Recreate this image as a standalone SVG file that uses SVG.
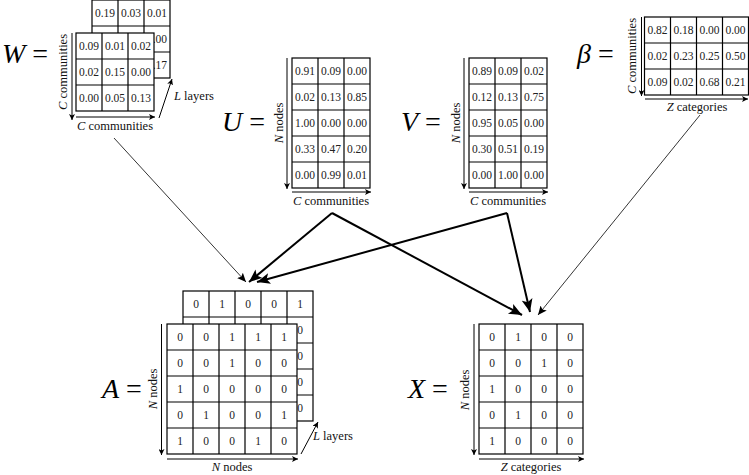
<svg xmlns="http://www.w3.org/2000/svg" width="749" height="475" viewBox="0 0 749 475">
<style>
.bg{fill:#fff}
.g{fill:#fff;stroke:#000;stroke-width:1.2}
.ln{stroke:#000;stroke-width:1.2;fill:none}
text{font-family:'Liberation Serif','Times New Roman',serif}
.v{font-size:11.5px;fill:#222;text-anchor:middle;dominant-baseline:central}
.lab{font-size:12.5px;fill:#111;text-anchor:middle}
.big{font-size:28px;fill:#000}
.it{font-style:italic}
.ax{stroke:#000;stroke-width:1;fill:none;marker-end:url(#ms)}
.thin{stroke:#000;stroke-width:0.8;fill:none;marker-end:url(#mt)}
.thick{stroke:#000;stroke-width:2;fill:none;marker-end:url(#mk)}
</style>
<defs>
<marker id="ms" markerUnits="userSpaceOnUse" markerWidth="7" markerHeight="6" refX="6" refY="3" orient="auto"><path d="M0,0 L6,3 L0,6 L1.5,3 z" fill="#000"/></marker>
<marker id="mt" markerUnits="userSpaceOnUse" markerWidth="10" markerHeight="8" refX="9" refY="4" orient="auto"><path d="M0,0 L9,4 L0,8 L2,4 z" fill="#000"/></marker>
<marker id="mk" markerUnits="userSpaceOnUse" markerWidth="14" markerHeight="11" refX="13" refY="5.5" orient="auto"><path d="M0,0 L13,5.5 L0,11 L3,5.5 z" fill="#000"/></marker>
</defs>
<rect class="bg" x="0" y="0" width="749" height="475"/>

<g id="W">
  <text class="big" x="2" y="63"><tspan class="it">W</tspan> =</text>
  <rect class="g" x="92" y="0" width="78" height="78"/>
  <path class="ln" d="M118,0V78M144,0V78M92,26H170M92,52H170"/>
  <text class="v" x="105" y="13">0.19</text><text class="v" x="131" y="13">0.03</text><text class="v" x="157" y="13">0.01</text>
  <text class="v" x="157" y="39">0.00</text>
  <text class="v" x="157" y="65">0.17</text>
  <rect class="g" x="76" y="33" width="78" height="78"/>
  <path class="ln" d="M102,33V111M128,33V111M76,59H154M76,85H154"/>
  <text class="v" x="89" y="46">0.09</text><text class="v" x="115" y="46">0.01</text><text class="v" x="141" y="46">0.02</text>
  <text class="v" x="89" y="72">0.02</text><text class="v" x="115" y="72">0.15</text><text class="v" x="141" y="72">0.00</text>
  <text class="v" x="89" y="98">0.00</text><text class="v" x="115" y="98">0.05</text><text class="v" x="141" y="98">0.13</text>
  <path class="ax" d="M72,33V120"/>
  <path class="ax" d="M76,117H155"/>
  <path class="ax" d="M159,118L172,79"/>
  <text class="lab" transform="translate(67,72) rotate(-90)"><tspan class="it">C</tspan> communities</text>
  <text class="lab" x="115" y="130"><tspan class="it">C</tspan> communities</text>
  <text class="lab" x="174" y="100" style="text-anchor:start"><tspan class="it">L</tspan> layers</text>
</g>

<g id="U">
  <text class="big" x="222" y="131"><tspan class="it">U</tspan> =</text>
  <rect class="g" x="292" y="58" width="78" height="130"/>
  <path class="ln" d="M318,58V188M344,58V188M292,84H370M292,110H370M292,136H370M292,162H370"/>
  <text class="v" x="305" y="71">0.91</text><text class="v" x="331" y="71">0.09</text><text class="v" x="357" y="71">0.00</text>
  <text class="v" x="305" y="97">0.02</text><text class="v" x="331" y="97">0.13</text><text class="v" x="357" y="97">0.85</text>
  <text class="v" x="305" y="123">1.00</text><text class="v" x="331" y="123">0.00</text><text class="v" x="357" y="123">0.00</text>
  <text class="v" x="305" y="149">0.33</text><text class="v" x="331" y="149">0.47</text><text class="v" x="357" y="149">0.20</text>
  <text class="v" x="305" y="175">0.00</text><text class="v" x="331" y="175">0.99</text><text class="v" x="357" y="175">0.01</text>
  <path class="ax" d="M287,58V189"/>
  <path class="ax" d="M292,192H371"/>
  <text class="lab" transform="translate(283,123) rotate(-90)"><tspan class="it">N</tspan> nodes</text>
  <text class="lab" x="331" y="205"><tspan class="it">C</tspan> communities</text>
</g>

<g id="V">
  <text class="big" x="401" y="131"><tspan class="it">V</tspan> =</text>
  <rect class="g" x="469" y="58" width="78" height="130"/>
  <path class="ln" d="M495,58V188M521,58V188M469,84H547M469,110H547M469,136H547M469,162H547"/>
  <text class="v" x="482" y="71">0.89</text><text class="v" x="508" y="71">0.09</text><text class="v" x="534" y="71">0.02</text>
  <text class="v" x="482" y="97">0.12</text><text class="v" x="508" y="97">0.13</text><text class="v" x="534" y="97">0.75</text>
  <text class="v" x="482" y="123">0.95</text><text class="v" x="508" y="123">0.05</text><text class="v" x="534" y="123">0.00</text>
  <text class="v" x="482" y="149">0.30</text><text class="v" x="508" y="149">0.51</text><text class="v" x="534" y="149">0.19</text>
  <text class="v" x="482" y="175">0.00</text><text class="v" x="508" y="175">1.00</text><text class="v" x="534" y="175">0.00</text>
  <path class="ax" d="M464,58V189"/>
  <path class="ax" d="M469,192H548"/>
  <text class="lab" transform="translate(460,123) rotate(-90)"><tspan class="it">N</tspan> nodes</text>
  <text class="lab" x="508" y="205"><tspan class="it">C</tspan> communities</text>
</g>

<g id="beta">
  <text class="big" x="577" y="63"><tspan class="it">β</tspan> =</text>
  <rect class="g" x="644.5" y="17" width="104" height="78"/>
  <path class="ln" d="M670.5,17V95M696.5,17V95M722.5,17V95M644.5,43H748.5M644.5,69H748.5"/>
  <text class="v" x="657.5" y="30">0.82</text><text class="v" x="683.5" y="30">0.18</text><text class="v" x="709.5" y="30">0.00</text><text class="v" x="735.5" y="30">0.00</text>
  <text class="v" x="657.5" y="56">0.02</text><text class="v" x="683.5" y="56">0.23</text><text class="v" x="709.5" y="56">0.25</text><text class="v" x="735.5" y="56">0.50</text>
  <text class="v" x="657.5" y="82">0.09</text><text class="v" x="683.5" y="82">0.02</text><text class="v" x="709.5" y="82">0.68</text><text class="v" x="735.5" y="82">0.21</text>
  <path class="ax" d="M641.5,17V96"/>
  <path class="ax" d="M645,99H748"/>
  <text class="lab" transform="translate(636,56) rotate(-90)"><tspan class="it">C</tspan> communities</text>
  <text class="lab" x="697" y="111"><tspan class="it">Z</tspan> categories</text>
</g>

<g id="A">
  <text class="big" x="102" y="398"><tspan class="it">A</tspan> =</text>
  <rect class="g" x="183" y="291" width="130" height="130"/>
  <path class="ln" d="M209,291V421M235,291V421M261,291V421M287,291V421M183,317H313M183,343H313M183,369H313M183,395H313"/>
  <text class="v" x="196" y="304">0</text><text class="v" x="222" y="304">1</text><text class="v" x="248" y="304">0</text><text class="v" x="274" y="304">0</text><text class="v" x="300" y="304">1</text>
  <text class="v" x="300" y="330">0</text><text class="v" x="300" y="356">0</text><text class="v" x="300" y="382">0</text><text class="v" x="300" y="408">0</text>
  <rect class="g" x="167" y="324" width="130" height="130"/>
  <path class="ln" d="M193,324V454M219,324V454M245,324V454M271,324V454M167,350H297M167,376H297M167,402H297M167,428H297"/>
  <text class="v" x="180" y="337">0</text><text class="v" x="206" y="337">0</text><text class="v" x="232" y="337">1</text><text class="v" x="258" y="337">1</text><text class="v" x="284" y="337">1</text>
  <text class="v" x="180" y="363">0</text><text class="v" x="206" y="363">0</text><text class="v" x="232" y="363">1</text><text class="v" x="258" y="363">0</text><text class="v" x="284" y="363">0</text>
  <text class="v" x="180" y="389">1</text><text class="v" x="206" y="389">0</text><text class="v" x="232" y="389">0</text><text class="v" x="258" y="389">0</text><text class="v" x="284" y="389">0</text>
  <text class="v" x="180" y="415">0</text><text class="v" x="206" y="415">1</text><text class="v" x="232" y="415">0</text><text class="v" x="258" y="415">0</text><text class="v" x="284" y="415">1</text>
  <text class="v" x="180" y="441">1</text><text class="v" x="206" y="441">0</text><text class="v" x="232" y="441">0</text><text class="v" x="258" y="441">1</text><text class="v" x="284" y="441">0</text>
  <path class="ax" d="M161.5,324V455"/>
  <path class="ax" d="M167,459H298"/>
  <path class="ax" d="M301,454L318,422"/>
  <text class="lab" transform="translate(157,389) rotate(-90)"><tspan class="it">N</tspan> nodes</text>
  <text class="lab" x="232" y="471"><tspan class="it">N</tspan> nodes</text>
  <text class="lab" x="313" y="440" style="text-anchor:start"><tspan class="it">L</tspan> layers</text>
</g>

<g id="X">
  <text class="big" x="408" y="398"><tspan class="it">X</tspan> =</text>
  <rect class="g" x="479" y="324" width="104" height="130"/>
  <path class="ln" d="M505,324V454M531,324V454M557,324V454M479,350H583M479,376H583M479,402H583M479,428H583"/>
  <text class="v" x="492" y="337">0</text><text class="v" x="518" y="337">1</text><text class="v" x="544" y="337">0</text><text class="v" x="570" y="337">0</text>
  <text class="v" x="492" y="363">0</text><text class="v" x="518" y="363">0</text><text class="v" x="544" y="363">1</text><text class="v" x="570" y="363">0</text>
  <text class="v" x="492" y="389">1</text><text class="v" x="518" y="389">0</text><text class="v" x="544" y="389">0</text><text class="v" x="570" y="389">0</text>
  <text class="v" x="492" y="415">0</text><text class="v" x="518" y="415">1</text><text class="v" x="544" y="415">0</text><text class="v" x="570" y="415">0</text>
  <text class="v" x="492" y="441">1</text><text class="v" x="518" y="441">0</text><text class="v" x="544" y="441">0</text><text class="v" x="570" y="441">0</text>
  <path class="ax" d="M474,324V455"/>
  <path class="ax" d="M479,459H584"/>
  <text class="lab" transform="translate(469,390) rotate(-90)"><tspan class="it">N</tspan> nodes</text>
  <text class="lab" x="531" y="471"><tspan class="it">Z</tspan> categories</text>
</g>

<g id="connectors">
  <path class="thin" d="M114,138L246,282"/>
  <path class="thick" d="M332,213L249,282"/>
  <path class="thick" d="M332,213L522,315"/>
  <path class="thick" d="M507,213L257,282"/>
  <path class="thick" d="M507,213L530,312"/>
  <path class="thin" d="M700,115L538,315"/>
</g>
</svg>
